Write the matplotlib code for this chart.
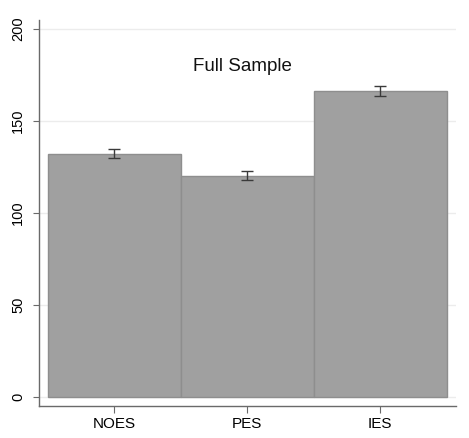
import matplotlib
matplotlib.use("Agg")
import matplotlib.pyplot as plt
import numpy as np

plt.rcParams['font.family'] = ['Liberation Sans', 'DejaVu Sans']

categories = ["NOES", "PES", "IES"]
means = [132.2, 120.3, 166.4]
errors = [2.5, 2.7, 2.7]
yticks = [0, 50, 100, 150, 200]

fig = plt.figure(figsize=(4.69, 4.38), dpi=100)
ax = fig.add_axes([39/469, 32/438, 417/469, 386/438])

x = np.arange(len(categories))
ax.bar(x, means, width=1.0, color="#a0a0a0", edgecolor="#8e8e8e", linewidth=1.0, zorder=2)
ax.errorbar(x, means, yerr=errors, fmt="none", ecolor="#3a3a3a", elinewidth=1.0,
            capsize=4, capthick=1.0, zorder=3)

ax.set_xlim(-0.568, 2.571)
ax.set_ylim(-5.06, 204.9)
ax.set_xticks(x)
ax.set_xticklabels(categories, fontsize=11)
ax.set_yticks(yticks)
ax.set_yticklabels([str(v) for v in yticks], fontsize=10.5, rotation=90, va="center")

ax.yaxis.grid(True, color="#ececec", linewidth=1.0, zorder=0)
ax.set_axisbelow(True)
for s in ["top", "right"]:
    ax.spines[s].set_visible(False)
for s in ["left", "bottom"]:
    ax.spines[s].set_color("#6a6a6a")
    ax.spines[s].set_linewidth(1.0)
ax.tick_params(axis="y", length=4, width=0.8, color="#6a6a6a", pad=6)
ax.tick_params(axis="x", length=5, width=0.8, color="#6a6a6a", pad=3)

ax.text(0.489, 0.879, "Full Sample", transform=ax.transAxes, ha="center", va="center",
        fontsize=13.5, color="#111111")

fig.savefig("out.png", dpi=100)
